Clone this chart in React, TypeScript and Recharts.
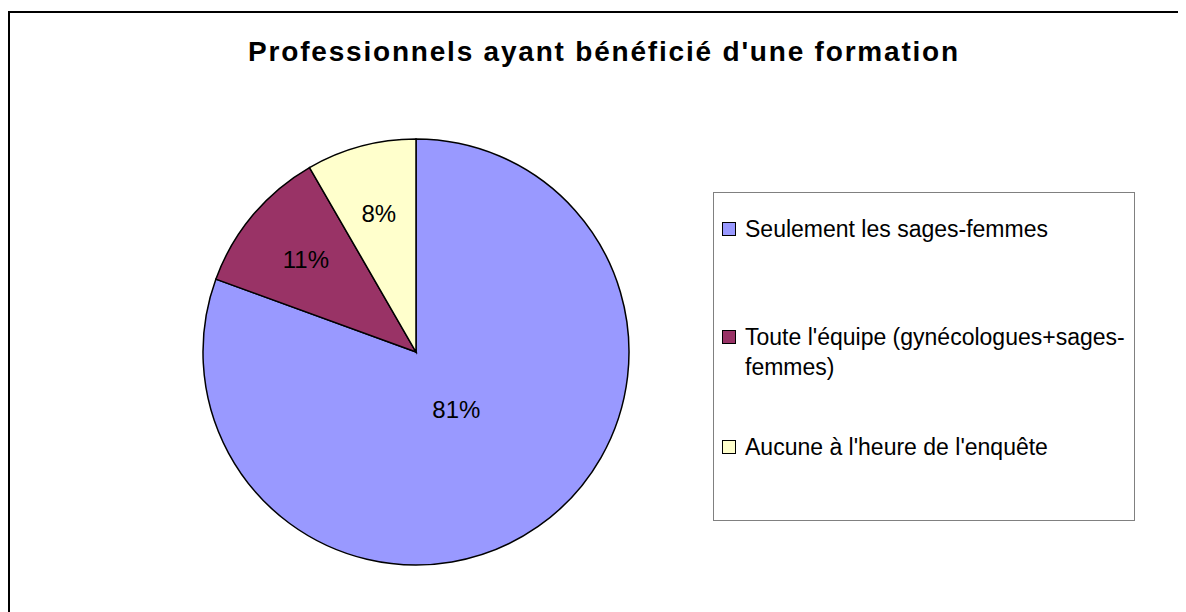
import { Cell, Legend, Pie, PieChart } from "recharts";

const categories = [
  "Seulement les sages-femmes",
  "Toute l'équipe (gynécologues+sages-femmes)",
  "Aucune à l'heure de l'enquête"
];
const counts = [29, 4, 3];
const colors = ["#9999ff", "#993366", "#ffffcc"];

const title = "Professionnels ayant bénéficié d'une formation";

const font = "'Liberation Sans', Arial, sans-serif";
const RADIAN = Math.PI / 180;

const data = categories.map((name, i) => ({ name, value: counts[i] }));

// gap above each legend row
const rowGaps = [21, 78, 50];

function renderLabel(props: any) {
  const { cx, cy, midAngle, outerRadius, percent } = props;
  // the big slice gets its label closer to the centre, like in the original
  const r = outerRadius * (percent > 0.5 ? 0.33 : 0.675);
  const x = cx + r * Math.cos(-midAngle * RADIAN);
  const y = cy + r * Math.sin(-midAngle * RADIAN);
  return (
    <text
      x={x}
      y={y}
      textAnchor="middle"
      dominantBaseline="central"
      fontSize={24}
      fontFamily={font}
      fill="#000"
    >
      {`${Math.round(percent * 100)}%`}
    </text>
  );
}

function LegendBox({ payload }: any) {
  const items = [...(payload || [])].sort(
    (a: any, b: any) => categories.indexOf(a.value) - categories.indexOf(b.value)
  );
  return (
    <div
      style={{
        boxSizing: "border-box",
        width: 422,
        height: 329,
        border: "1px solid #808080",
        background: "#fff",
        paddingLeft: 8,
        fontFamily: font,
        fontSize: 23,
        lineHeight: "30px",
        color: "#000",
        textAlign: "left"
      }}
    >
      {items.map((entry: any, i: number) => (
        <div
          key={entry.value}
          style={{ display: "flex", alignItems: "flex-start", marginTop: rowGaps[i] }}
        >
          <span
            style={{
              boxSizing: "border-box",
              flex: "none",
              width: 14,
              height: 14,
              marginTop: 8,
              marginRight: 9,
              border: "1.5px solid #000",
              background: entry.color
            }}
          />
          <span style={{ width: 392 }}>{entry.value}</span>
        </div>
      ))}
    </div>
  );
}

export default function App() {
  return (
    <div style={{ position: "relative", width: 1178, height: 604, overflow: "hidden" }}>
      <div
        style={{
          position: "absolute",
          left: 0,
          top: 3,
          width: 1300,
          height: 700,
          border: "2px solid #000"
        }}
      />
      <div
        style={{
          position: "absolute",
          left: 596,
          top: 28,
          transform: "translateX(-50%)",
          whiteSpace: "nowrap",
          fontFamily: font,
          fontWeight: "bold",
          fontSize: 28,
          lineHeight: "32px",
          letterSpacing: 1.8,
          color: "#000"
        }}
      >
        {title}
      </div>
      <div style={{ position: "absolute", left: 0, top: 0 }}>
        <PieChart width={1178} height={604} margin={{ top: 0, right: 0, bottom: 0, left: 0 }}>
          <Pie
            data={data}
            dataKey="value"
            nameKey="name"
            cx={408}
            cy={344}
            outerRadius={213}
            startAngle={90}
            endAngle={-270}
            stroke="#000"
            strokeWidth={1.5}
            label={renderLabel}
            labelLine={false}
            isAnimationActive={false}
          >
            {data.map((item, i) => (
              <Cell key={item.name} fill={colors[i]} />
            ))}
          </Pie>
          <Legend
            content={<LegendBox />}
            itemSorter={null}
            wrapperStyle={{ position: "absolute", left: 705, top: 184, width: 422, height: 329 }}
          />
        </PieChart>
      </div>
    </div>
  );
}
